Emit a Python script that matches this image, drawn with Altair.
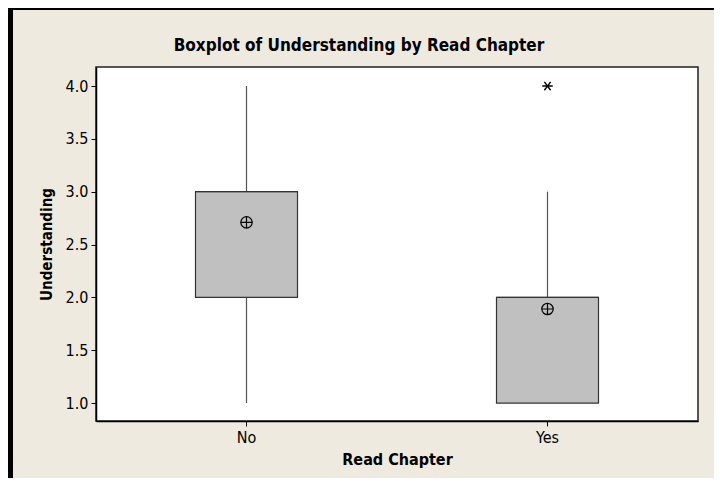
import altair as alt
import pandas as pd

categories = ["No", "Yes"]
q1 = [2.0, 1.0]
q3 = [3.0, 2.0]
medians = [3.0, 2.0]
whisker_low = [1.0, 1.0]
whisker_high = [4.0, 3.0]
means = [2.71, 1.89]
outlier_cat = ["Yes"]
outlier_val = [4.0]
title_text = ["Boxplot of Understanding by Read Chapter"]

box_df = pd.DataFrame({"cat": categories, "q1": q1, "q3": q3, "med": medians,
                       "lo": whisker_low, "hi": whisker_high, "mean": means})
out_df = pd.DataFrame({"cat": outlier_cat, "val": outlier_val})
title_df = pd.DataFrame({"t": title_text})

FONT = "DejaVu Sans Condensed, DejaVu Sans, sans-serif"
BG = "#eeeae0"

xenc = alt.X("cat:N", sort=categories, title="Read Chapter",
             scale=alt.Scale(paddingInner=0, paddingOuter=0),
             axis=alt.Axis(labelAngle=0, tickSize=5, labelPadding=3, titlePadding=6,
                           domainColor="#000", tickColor="#000", domainWidth=1.5,
                           titleFontSize=16))
yscale = alt.Scale(domain=[0.83, 4.18], nice=False, zero=False)
yaxis = alt.Axis(values=[1.0, 1.5, 2.0, 2.5, 3.0, 3.5, 4.0], format=".1f", tickSize=5,
                 labelPadding=3, titlePadding=11, grid=False,
                 domainColor="#000", tickColor="#000", domainWidth=1.5,
                 titleFontSize=15)

base = alt.Chart(box_df)

whiskers = base.mark_rule(color="#555555", strokeWidth=1.2).encode(
    x=xenc,
    y=alt.Y("lo:Q", scale=yscale, axis=yaxis, title="Understanding"),
    y2="hi:Q",
)

boxes = base.mark_bar(size=102, fill="#c0c0c0", stroke="#333333", strokeWidth=1.2).encode(
    x=alt.X("cat:N", sort=categories),
    y=alt.Y("q1:Q", scale=yscale),
    y2="q3:Q",
)

med = base.mark_tick(size=102, color="#333333", thickness=1.2).encode(
    x=alt.X("cat:N", sort=categories),
    y=alt.Y("med:Q", scale=yscale),
)

mean_circle = base.mark_point(shape="circle", size=130, filled=False, color="#000",
                              strokeWidth=1.2, opacity=1).encode(
    x=alt.X("cat:N", sort=categories),
    y=alt.Y("mean:Q", scale=yscale),
)
mean_plus = base.mark_point(shape="M-1,0L1,0M0,-1L0,1", size=130, filled=False,
                            color="#000", strokeWidth=1.2, opacity=1).encode(
    x=alt.X("cat:N", sort=categories),
    y=alt.Y("mean:Q", scale=yscale),
)

outliers = alt.Chart(out_df).mark_point(
    shape="M-1,0L1,0M-0.6,-0.8L0.6,0.8M-0.6,0.8L0.6,-0.8", size=110, filled=False,
    color="#000", strokeWidth=1.4, opacity=1).encode(
    x=alt.X("cat:N", sort=categories),
    y=alt.Y("val:Q", scale=yscale),
)

title_mark = alt.Chart(title_df).mark_text(
    font=FONT, fontSize=17, fontWeight="bold", color="#000",
    align="center", baseline="middle").encode(
    text="t:N", x=alt.value(263), y=alt.value(-21))

frame_left = base.mark_rule(color="#000", strokeWidth=5).encode(
    x=alt.value(-85.5), y=alt.value(-60), y2=alt.value(420))
frame_top = base.mark_rule(color="#000", strokeWidth=3).encode(
    x=alt.value(-88), x2=alt.value(630), y=alt.value(-58.5))

chart = alt.layer(frame_left, frame_top, whiskers, boxes, med, mean_circle, mean_plus,
                  outliers, title_mark).properties(
    width=602, height=354,
    background=BG,
    padding={"left": 88, "top": 59, "right": 16, "bottom": 57},
    autosize=alt.AutoSizeParams(type="none"),
).configure_view(
    fill="#ffffff", stroke="#222222", strokeWidth=1.5
).configure_axis(
    labelFont=FONT, titleFont=FONT, labelFontSize=16,
    labelColor="#000", titleColor="#000", titleFontWeight="bold"
)

chart.save("out.html", embed_options={"renderer": "svg", "actions": False})
